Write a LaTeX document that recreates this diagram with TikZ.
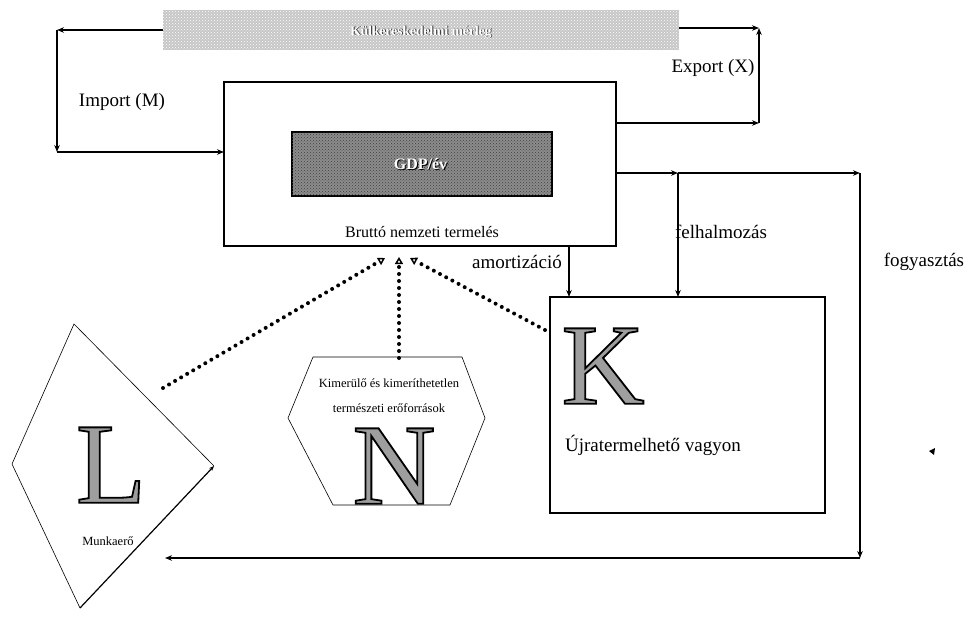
\documentclass[tikz,border=0pt]{standalone}
\usepackage{fontspec}
\setmainfont{Liberation Serif}
\usetikzlibrary{arrows.meta,patterns}
\newcommand{\engr}[1]{\special{pdf:literal direct 0 0 0 RG 1.8 w 2 Tr}#1\special{pdf:literal direct 0 Tr}}
\begin{document}
\begin{tikzpicture}[x=1pt,y=-1pt,
  conn/.style={line width=1.1pt,-{Stealth[length=7pt,width=5.5pt]}},
  dotline/.style={line width=4pt,dash pattern=on 0pt off 7pt,line cap=round,
     -{Triangle[open,length=7pt,width=8pt,line width=1.5pt]}},
  lbl/.style={font=\fontsize{19}{22}\selectfont,inner sep=0pt},
  sml/.style={font=\fontsize{12.5}{15}\selectfont,inner sep=0pt},
  bigletter/.style={font=\fontsize{115}{115}\selectfont,inner sep=0pt,text=black!38},
  box/.style={draw,line width=1.8pt,inner sep=0pt,outer sep=0pt}]
\useasboundingbox (0,0) rectangle (964,634);
% top band
\node[inner sep=0pt,outer sep=0pt,minimum width=516pt,minimum height=40pt,fill=black!22,
  postaction={pattern=crosshatch dots,pattern color=white}] (band) at (421,30) {};
\node[font=\bfseries\fontsize{13.5}{16}\selectfont,text=black!80,inner sep=0pt] (bandsh) at (421.8,32.8) {Külkereskedelmi mérleg};
\node[font=\bfseries\fontsize{13.5}{16}\selectfont,text=white,inner sep=0pt] (bandtxt) at (421,32) {Külkereskedelmi mérleg};
% main box
\node[box,minimum width=392pt,minimum height=164pt] (bnt) at (420,164) {};
\node[draw,line width=1.5pt,inner sep=0pt,minimum width=260pt,minimum height=64pt,fill=black!45,
  postaction={pattern=crosshatch dots,pattern color=black!75}] (gdp) at (422,164) {};
\node[font=\bfseries\fontsize{16}{18}\selectfont,text=black,inner sep=0pt] (gdpsh) at (421.6,164.9) {GDP/év};
\node[font=\bfseries\fontsize{16}{18}\selectfont,text=white,inner sep=0pt] (gdptxt) at (420.5,163.8) {GDP/év};
\node[font=\fontsize{16}{18}\selectfont,inner sep=0pt] (bnttxt) at (422,232) {Bruttó nemzeti termelés};
% import
\coordinate (imTop) at (57,30);
\coordinate (imBot) at (57,152);
\draw[conn] (band.west |- imTop) -- (imTop);
\draw[conn] (imTop) -- (imBot);
\draw[conn] (imBot) -- (bnt.west |- imBot);
\node[lbl] (imp) at (122,102) {Import (M)};
% export
\coordinate (exTop) at (759,28);
\coordinate (exBot) at (759,123);
\draw[conn] (band.east |- exTop) -- (exTop);
\draw[conn] (bnt.east |- exBot) -- (exBot);
\draw[conn] (exBot) -- (exTop);
\node[lbl] (exp) at (713,68) {Export (X)};
% consumption loop
\coordinate (fa) at (678,173);
\coordinate (fR) at (860,173);
\coordinate (fB) at (860,558);
\coordinate (fL) at (165,558);
\draw[conn] (bnt.east |- fa) -- (fa);
\draw[conn] (fa) -- (fR);
\draw[conn] (fR) -- (fB);
\draw[conn] (fB) -- (fL);
\node[lbl] (fogy) at (924,262) {fogyasztás};
% K box
\node[box,minimum width=275pt,minimum height=216pt] (K) at (687.5,405) {};
\draw[conn] (fa) -- (fa |- K.north);
\node[lbl] (felh) at (721,232) {felhalmozás};
\coordinate (am) at (569,297);
\draw[conn] (bnt.south -| am) -- (am);
\node[lbl] (amort) at (517,262) {amortizáció};
\node[bigletter] (Kl) at (603,366) {\engr{K}};
\node[lbl] (ujra) at (653,445) {Újratermelhető vagyon};
% L kite
\coordinate (Lt) at (74,324);
\coordinate (Lr) at (214,466);
\coordinate (Lb) at (80,608);
\coordinate (Ll) at (12,464);
\draw[line width=0.6pt] (Lb) -- (Ll) -- (Lt) -- (Lr);
\draw[line width=1.2pt,-{Stealth[length=5pt,width=4pt]}] (Lb) -- (Lr);
\node[bigletter] (Llet) at (111,465) {\engr{L}};
\node[font=\fontsize{12.5}{14}\selectfont,inner sep=0pt] (munka) at (108,541) {Munkaerő};
% N hexagon
\coordinate (h1) at (313,357);
\coordinate (h2) at (462,357);
\coordinate (h3) at (485,418);
\coordinate (h4) at (450,505);
\coordinate (h5) at (333,505);
\coordinate (h6) at (288,418);
\draw[line width=0.6pt] (h1) -- (h2) -- (h3) -- (h4) -- (h5) -- (h6) -- cycle;
\node[sml] (nt1) at (389,383) {Kimerülő és kimeríthetetlen};
\node[sml] (nt2) at (389,408) {természeti erőforrások};
\node[bigletter] (Nlet) at (394,466) {\engr{N}};
% dotted arrows
\coordinate (dL) at (163,388);
\coordinate (dN) at (399,358);
\coordinate (dK) at (545,330);
\coordinate (tL) at (385,258);
\coordinate (tN) at (399,257);
\coordinate (tK) at (410,258);
\draw[dotline] (dL) -- (tL);
\draw[dotline] (dN) -- (tN);
\draw[dotline] (dK) -- (tK);
% stray mark
\fill (929,451) -- (935,448) -- (934,455) -- cycle;
\end{tikzpicture}
\end{document}
